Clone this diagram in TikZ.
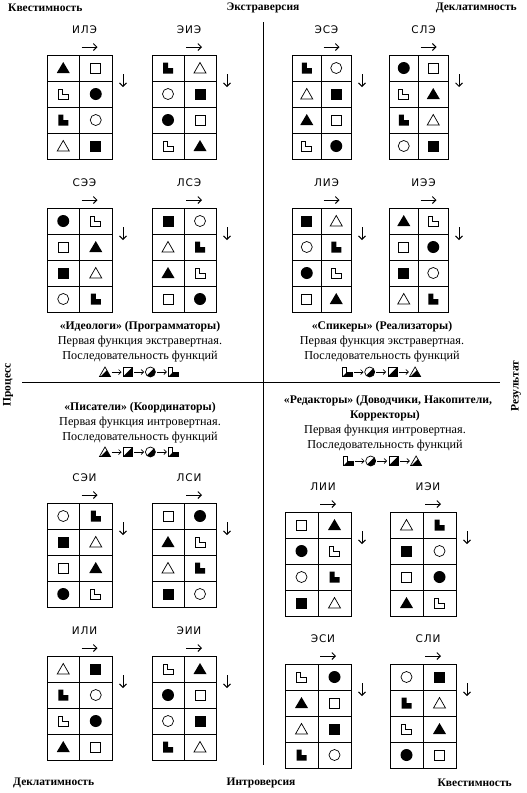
\documentclass[tikz,border=0pt]{standalone}
\usepackage{fontspec}
\setmainfont{Liberation Serif}
\newfontfamily\typefont[LetterSpace=8]{DejaVu Sans}
\usetikzlibrary{arrows.meta}

% function symbols, drawn round (0,0)
\newcommand{\symT}{\fill (-6.5,5) -- (6.5,5) -- (0,-6) -- cycle;}
\newcommand{\symt}{\draw[line width=0.7pt] (-6,5) -- (6,5) -- (0,-5.5) -- cycle;}
\newcommand{\symS}{\fill (-5.5,-5.5) rectangle (5.5,5.5);}
\newcommand{\syms}{\draw[line width=0.7pt] (-5,-5) rectangle (5,5);}
\newcommand{\symC}{\fill (0,0) circle (6pt);}
\newcommand{\symc}{\draw[line width=0.7pt] (0,0) circle (5.5pt);}
\newcommand{\symL}{\fill (-5,-5.5) -- (0,-5.5) -- (0,0) -- (5,0) -- (5,5.5) -- (-5,5.5) -- cycle;}
\newcommand{\syml}{\draw[line width=0.7pt] (-5,-5) -- (-1,-5) -- (-1,0) -- (5,0) -- (5,5) -- (-5,5) -- cycle;}

% half filled symbols for the order of functions
\newcommand{\pathT}{(-5.5,4.5) -- (5.5,4.5) -- (0,-5) -- cycle}
\newcommand{\pathS}{(-4.5,-4.5) rectangle (4.5,4.5)}
\newcommand{\pathC}{(0,0) circle (5pt)}
\newcommand{\pathL}{(-4.5,-5) -- (-0.5,-5) -- (-0.5,0) -- (5,0) -- (5,4.5) -- (-4.5,4.5) -- cycle}
\newcommand{\halfclip}{(-6,6) -- (6,6) -- (6,-6) -- cycle}
\newcommand{\halfT}{\begin{scope}\clip \halfclip; \fill \pathT; \end{scope}\draw[line width=0.7pt] \pathT;}
\newcommand{\halfS}{\begin{scope}\clip \halfclip; \fill \pathS; \end{scope}\draw[line width=0.7pt] \pathS;}
\newcommand{\halfC}{\begin{scope}\clip \halfclip; \fill \pathC; \end{scope}\draw[line width=0.7pt] \pathC;}
\newcommand{\halfL}{\begin{scope}\clip \halfclip; \fill \pathL; \end{scope}\draw[line width=0.7pt] \pathL;}

% one type: #1 name, #2 label, #3 left, #4 top, #5 cell width, #6 symbols
\newcommand{\socion}[6]{%
  \begin{scope}[shift={(#3,#4)}]
    \draw[grid] (0,0) rectangle ({2*#5},104);
    \draw[grid] (#5,0) -- (#5,104);
    \foreach \yy in {26,52,78} \draw[grid] (0,\yy) -- ({2*#5},\yy);
    \node[tname] (#1) at ({#5+5},-25) {#2};
    \draw[dirarr] ({#5+2},-8) -- ++(16,0);
    \draw[dirarr] ({2*#5+11},19) -- ++(0,13);
    \foreach \s [count=\i from 0] in {#6} {
      \pgfmathtruncatemacro{\cc}{mod(\i,2)}
      \pgfmathtruncatemacro{\rr}{div(\i,2)}
      \begin{scope}[shift={({(\cc+0.5)*#5},{(\rr+0.5)*26})}]
        \csname sym\s\endcsname
      \end{scope}
    }
  \end{scope}}

% order of functions: #1 x, #2 y, #3 four symbols
\newcommand{\funcorder}[3]{%
  \begin{scope}[shift={(#1,#2)}]
    \foreach \s [count=\i from 0] in {#3} {
      \begin{scope}[shift={({-34+22.7*\i},0)}]
        \csname half\s\endcsname
      \end{scope}
    }
    \foreach \i in {0,1,2} \draw[seqarr] ({-27.5+22.7*\i},0) -- ++(10,0);
  \end{scope}}

\begin{document}
\begin{tikzpicture}[x=1pt, y=-1pt,
    grid/.style={line width=0.9pt},
    tname/.style={font=\typefont\fontsize{10.5}{10.5}\selectfont, inner sep=0pt},
    dirarr/.style={line width=0.9pt, -{Straight Barb[length=3.5pt, width=7pt]}},
    seqarr/.style={line width=0.7pt, -{Straight Barb[length=2.5pt, width=5pt]}},
    head/.style={font=\bfseries\fontsize{11.7}{14}\selectfont, inner sep=0pt},
    txt/.style={font=\fontsize{12.2}{14}\selectfont, inner sep=0pt},
    side/.style={font=\bfseries\fontsize{11.5}{13}\selectfont, inner sep=0pt}]
    % Background
    \fill[white] (0,0) rectangle (527,793);
    \useasboundingbox (0,0) rectangle (527,793);

    % Axes
    \draw[line width=0.9pt] (22,382) -- (500,382);
    \draw[line width=0.9pt] (263,22) -- (263,765);

    % Corner and side labels
    \node[side, anchor=west] (kv-top) at (8,8) {Квестимность};
    \node[side] (extra) at (263,8) {Экстраверсия};
    \node[side, anchor=east] (dek-top) at (517,8) {Деклатимность};
    \node[side, anchor=west] (dek-bot) at (13,783) {Деклатимность};
    \node[side] (intro) at (261,783) {Интроверсия};
    \node[side, anchor=east] (kv-bot) at (512,783) {Квестимность};
    \node[side, rotate=90] (proc) at (8,385) {Процесс};
    \node[side, rotate=90] (res) at (516,386) {Результат};

    % Ideologists
    \socion{ile}{ИЛЭ}{47}{55}{32.5}{T,s,l,C,L,c,t,S}
    \socion{eie}{ЭИЭ}{152}{55}{32}{L,t,c,S,C,s,l,T}
    \socion{see}{СЭЭ}{47}{208}{32.5}{C,l,s,T,S,t,c,L}
    \socion{lse}{ЛСЭ}{152}{208}{32}{S,c,t,L,T,l,s,C}
    \node[head] (ideo) at (140,327) {«Идеологи» (Программаторы)};
    \node[txt] (ideo-1) at (140,342) {Первая функция экстравертная.};
    \node[txt] (ideo-2) at (140,357) {Последовательность функций};
    \funcorder{139}{372}{T,S,C,L}

    % Speakers
    \socion{ese}{ЭСЭ}{292}{55}{29.5}{L,c,t,S,T,s,l,C}
    \socion{sle}{СЛЭ}{389}{55}{29.5}{C,s,l,T,L,t,c,S}
    \socion{lie}{ЛИЭ}{292}{208}{29.5}{S,t,c,L,C,l,s,T}
    \socion{iee}{ИЭЭ}{389}{208}{29.5}{T,l,s,C,S,c,t,L}
    \node[head] (spik) at (382,327) {«Спикеры» (Реализаторы)};
    \node[txt] (spik-1) at (382,342) {Первая функция экстравертная.};
    \node[txt] (spik-2) at (382,357) {Последовательность функций};
    \funcorder{381}{372}{L,C,S,T}

    % Writers
    \node[head] (pis) at (140,408) {«Писатели» (Координаторы)};
    \node[txt] (pis-1) at (140,423) {Первая функция интровертная.};
    \node[txt] (pis-2) at (140,438) {Последовательность функций};
    \funcorder{139}{452}{T,S,C,L}
    \socion{sei}{СЭИ}{47}{503}{32.5}{c,L,S,t,s,T,C,l}
    \socion{lsi}{ЛСИ}{152}{503}{32}{s,C,T,l,t,L,S,c}
    \socion{ili}{ИЛИ}{47}{656}{32.5}{t,S,L,c,l,C,T,s}
    \socion{eii}{ЭИИ}{152}{656}{32}{l,T,C,s,c,S,L,t}

    % Editors
    \node[head] (red) at (388,401) {«Редакторы» (Доводчики, Накопители,};
    \node[head] (red-0) at (385,416) {Корректоры)};
    \node[txt] (red-1) at (385,431) {Первая функция интровертная.};
    \node[txt] (red-2) at (385,446) {Последовательность функций};
    \funcorder{382}{461}{L,C,S,T}
    \socion{lii}{ЛИИ}{285}{512}{33}{s,T,C,l,c,L,S,t}
    \socion{iei}{ИЭИ}{390}{512}{33}{t,L,S,c,s,C,T,l}
    \socion{esi}{ЭСИ}{285}{664}{33}{l,C,T,s,t,S,L,c}
    \socion{sli}{СЛИ}{390}{664}{33}{c,S,L,t,l,T,C,s}
\end{tikzpicture}
\end{document}
